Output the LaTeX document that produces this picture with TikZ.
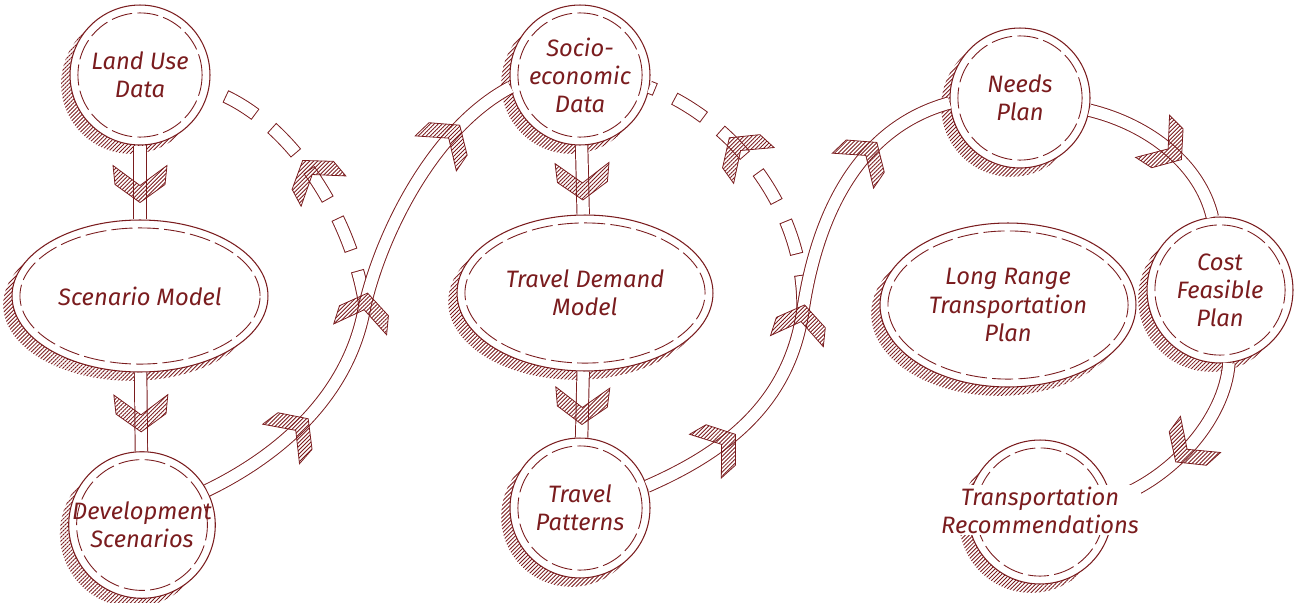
\documentclass[tikz,border=0pt]{standalone}
\usepackage{fontspec}
\newfontfamily\sketchfont{Fira Sans}
\usepackage{xcolor}
\definecolor{sketch-red}{RGB}{122,28,30}
\usepackage{tikz}
\usetikzlibrary{shapes.geometric,calc,decorations.markings,patterns.meta}

\newcommand{\sketchtext}{\sketchfont\itshape\fontsize{13.5}{16}\selectfont}
\newcommand{\chevronhead}{%
	\draw[sketch-red,solid,line width=.45pt,
	pattern={Lines[angle=45,distance=1.6pt,line width=.5pt]},pattern color=sketch-red]
	(20,0) -- (2,25) -- (-17,27) -- (3,0) -- (-17,-27) -- (2,-25) -- cycle;}

\tikzset{
	stage/.style={circle,draw=sketch-red,line width=.6pt,fill=white,
		minimum size=2.8cm,inner sep=0pt,align=center,
		text=sketch-red,font=\sketchtext,
		preaction={draw=none,transform canvas={shift={(-5pt,-5pt)}},
			pattern={Lines[angle=45,distance=1.6pt,line width=.5pt]},pattern color=sketch-red},
		path picture={\draw[sketch-red,line width=.5pt,dash pattern=on 12pt off 3pt]
			let \p1=(path picture bounding box.north east),
			\p2=(path picture bounding box.south west) in
			(path picture bounding box.center) ellipse ({(\x1-\x2)/2-4.5pt} and {(\y1-\y2)/2-4.5pt});}},
	bigstage/.style={stage,ellipse,minimum width=5.12cm,minimum height=3.04cm},
	band/.style={draw=sketch-red,line width=.55pt,double=white,double distance=6.5pt},
	broken band/.style={draw=white,line width=6.5pt,dash pattern=on 18.9pt off 13.1pt,dash phase=31.45pt,
		preaction={draw=sketch-red,line width=7.6pt,dash pattern=on 20pt off 12pt,dash phase=0pt}},
	arrow at/.style={postaction={decorate,decoration={markings,
				mark=at position #1 with {\chevronhead}}}}
}

\begin{document}
\begin{tikzpicture}[x=.02cm,y=-.02cm]
	\useasboundingbox (0,0) rectangle (1295,602);
	
	\node[stage] (land) at (140,75) {Land Use\\Data};
	\node[bigstage] (scen) at (140,296) {Scenario Model};
	\node[stage] (dev) at (142,525) {Development\\Scenarios};
	
	\node[stage] (socio) at (580,75) {Socio-\\economic\\Data};
	\node[bigstage,minimum height=3.12cm] (demand) at (585,293) {Travel Demand\\Model};
	\node[stage] (trips) at (580,508) {Travel\\Patterns};
	
	\node[stage] (needs) at (1020,98) {Needs\\Plan};
	\node[bigstage,minimum height=3.28cm] (lrtp) at (1008,305) {Long Range\\Transportation\\Plan};
	\node[stage,minimum height=2.92cm] (cost) at (1220,290) {Cost\\Feasible\\Plan};
	\node[stage,minimum size=2.88cm] (recs) at (1040,512) {};
	
%	================================================
	\draw[band,arrow at=.5] (land) -- (scen);
	\draw[band,arrow at=.5] (scen) -- (dev);
	\draw[band,arrow at=.5] (socio) -- (demand);
	\draw[band,arrow at=.5] (demand) -- (trips);
	
	\coordinate (fbA) at (365,305);
	\coordinate (fbB) at (803,310);
	
	\draw[broken band,arrow at=.5] (fbA) .. controls (350,210) and (285,115) .. (land.-12);
	\draw[broken band,arrow at=.6] (fbB) .. controls (805,210) and (735,120) .. (socio.-10);
	
	\draw[band,arrow at=.2,arrow at=.47,arrow at=.84]
	(dev.28) .. controls (280,455) and (350,395) .. (fbA)
	.. controls (380,240) and (430,130) .. (socio.190);
	\draw[band,arrow at=.16,arrow at=.45,arrow at=.8]
	(trips.18) .. controls (730,450) and (790,400) .. (fbB)
	.. controls (815,230) and (850,130) .. (needs.184);
	
%	================================================
	\draw[band,arrow at=.5] (needs.-10) .. controls (1150,125) and (1200,165) .. (cost.96);
	\draw[band,arrow at=.5] (cost.-83) .. controls (1225,420) and (1170,480) .. (recs.10);
	
	\node[text=sketch-red,font=\sketchtext,fill=white,inner sep=1pt,align=center]
	(recs text) at (1040,510) {Transportation\\Recommendations};
	
\end{tikzpicture}
\end{document}
